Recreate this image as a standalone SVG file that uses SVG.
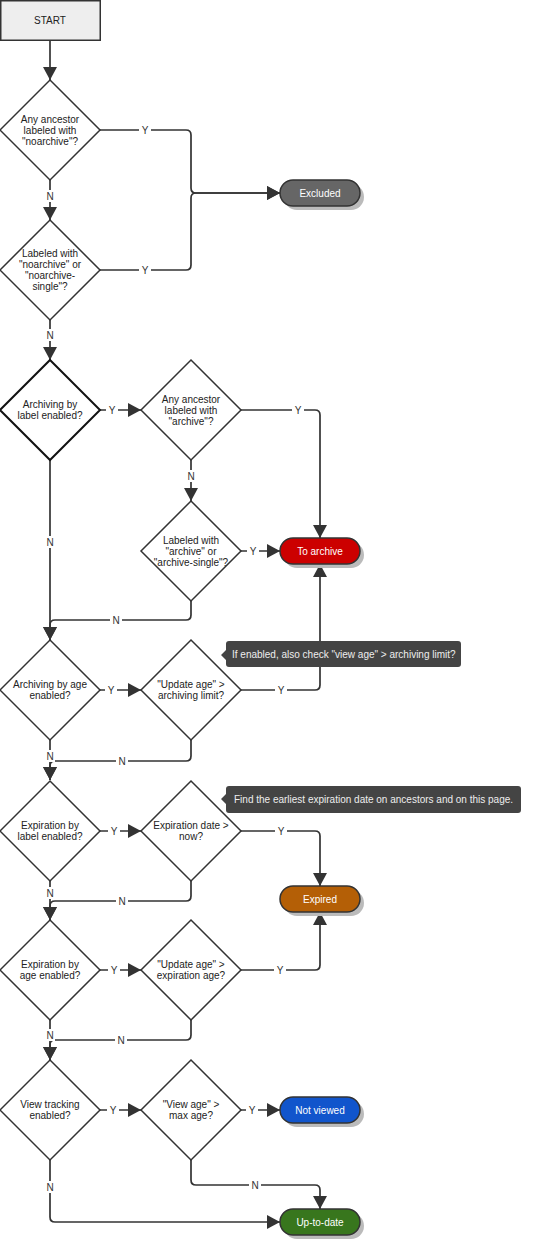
<svg xmlns="http://www.w3.org/2000/svg" width="545" height="1255" viewBox="0 0 545 1255">
<style>
text{font-family:"Liberation Sans",Arial,sans-serif;font-size:10px;text-anchor:middle;dominant-baseline:central}
.d{fill:#fff;stroke:#333;stroke-width:1.5}
.dt{fill:#222}
.c{fill:none;stroke:#333;stroke-width:1.7;stroke-linejoin:round}
.lb{fill:#333}
.lbg{fill:#fff}
.t{stroke:#333;stroke-width:1.5}
.sh{fill:#bbb}
.tt{fill:#fff}
.co{fill:#444}
.cot{fill:#eee;text-anchor:start}
</style>
<defs>
<marker id="a" viewBox="0 0 13 14" refX="13" refY="7" markerWidth="13" markerHeight="14" markerUnits="userSpaceOnUse" orient="auto">
<path d="M0,0 L13,7 L0,14 z" fill="#333"/>
</marker>
</defs>
<rect width="545" height="1255" fill="#fff"/>

<g id="connectors">
<path class="c" d="M50,40 V80" marker-end="url(#a)"/>
<path class="c" d="M100,130 H186 Q191,130 191,135 V188 Q191,193 196,193 H280" marker-end="url(#a)"/>
<path class="c" d="M100,270 H186 Q191,270 191,265 V198 Q191,193 196,193 H280" marker-end="url(#a)"/>
<path class="c" d="M50,180 V220" marker-end="url(#a)"/>
<path class="c" d="M50,320 V360" marker-end="url(#a)"/>
<path class="c" d="M100,410 H141" marker-end="url(#a)"/>
<path class="c" d="M50,460 V640" marker-end="url(#a)"/>
<path class="c" d="M241,410 H315 Q320,410 320,415 V538" marker-end="url(#a)"/>
<path class="c" d="M191,460 V501" marker-end="url(#a)"/>
<path class="c" d="M241,551 H280" marker-end="url(#a)"/>
<path class="c" d="M191,601 V615 Q191,620 186,620 H55 Q50,620 50,625 V640" marker-end="url(#a)"/>
<path class="c" d="M100,690 H141" marker-end="url(#a)"/>
<path class="c" d="M241,690 H315 Q320,690 320,685 V564" marker-end="url(#a)"/>
<path class="c" d="M50,740 V780" marker-end="url(#a)"/>
<path class="c" d="M191,740 V756 Q191,761 186,761 H55 Q50,761 50,766 V780" marker-end="url(#a)"/>
<path class="c" d="M100,831 H141" marker-end="url(#a)"/>
<path class="c" d="M241,831 H315 Q320,831 320,836 V886" marker-end="url(#a)"/>
<path class="c" d="M50,881 V920" marker-end="url(#a)"/>
<path class="c" d="M191,881 V896 Q191,901 186,901 H55 Q50,901 50,906 V920" marker-end="url(#a)"/>
<path class="c" d="M100,970 H141" marker-end="url(#a)"/>
<path class="c" d="M241,970 H315 Q320,970 320,965 V912" marker-end="url(#a)"/>
<path class="c" d="M50,1020 V1060" marker-end="url(#a)"/>
<path class="c" d="M191,1020 V1035 Q191,1040 186,1040 H55 Q50,1040 50,1045 V1060" marker-end="url(#a)"/>
<path class="c" d="M100,1110 H141" marker-end="url(#a)"/>
<path class="c" d="M241,1110 H280" marker-end="url(#a)"/>
<path class="c" d="M191,1160 V1180 Q191,1185 196,1185 H315 Q320,1185 320,1190 V1209" marker-end="url(#a)"/>
<path class="c" d="M50,1160 V1217 Q50,1222 55,1222 H280" marker-end="url(#a)"/>
<g id="labels">
<rect class="lbg" x="139" y="124" width="12" height="12"/><text class="lb" x="145" y="130">Y</text>
<rect class="lbg" x="45" y="190" width="10" height="12"/><text class="lb" x="50" y="196">N</text>
<rect class="lbg" x="139" y="264" width="12" height="12"/><text class="lb" x="145" y="270">Y</text>
<rect class="lbg" x="45" y="329" width="10" height="12"/><text class="lb" x="50" y="335">N</text>
<rect class="lbg" x="106" y="404" width="12" height="12"/><text class="lb" x="112" y="410">Y</text>
<rect class="lbg" x="45" y="536" width="10" height="12"/><text class="lb" x="50" y="542">N</text>
<rect class="lbg" x="292" y="404" width="12" height="12"/><text class="lb" x="298" y="410">Y</text>
<rect class="lbg" x="186" y="470" width="10" height="12"/><text class="lb" x="191" y="476">N</text>
<rect class="lbg" x="247" y="545" width="12" height="12"/><text class="lb" x="253" y="551">Y</text>
<rect class="lbg" x="110" y="614" width="12" height="12"/><text class="lb" x="116" y="620">N</text>
<rect class="lbg" x="105" y="684" width="12" height="12"/><text class="lb" x="111" y="690">Y</text>
<rect class="lbg" x="275" y="684" width="12" height="12"/><text class="lb" x="281" y="690">Y</text>
<rect class="lbg" x="45" y="750" width="10" height="12"/><text class="lb" x="50" y="756">N</text>
<rect class="lbg" x="116" y="755" width="12" height="12"/><text class="lb" x="122" y="761">N</text>
<rect class="lbg" x="108" y="825" width="12" height="12"/><text class="lb" x="114" y="831">Y</text>
<rect class="lbg" x="275" y="825" width="12" height="12"/><text class="lb" x="281" y="831">Y</text>
<rect class="lbg" x="45" y="887" width="10" height="12"/><text class="lb" x="50" y="893">N</text>
<rect class="lbg" x="116" y="895" width="12" height="12"/><text class="lb" x="122" y="901">N</text>
<rect class="lbg" x="108" y="964" width="12" height="12"/><text class="lb" x="114" y="970">Y</text>
<rect class="lbg" x="274" y="964" width="12" height="12"/><text class="lb" x="280" y="970">Y</text>
<rect class="lbg" x="45" y="1029" width="10" height="12"/><text class="lb" x="50" y="1035">N</text>
<rect class="lbg" x="115" y="1034" width="12" height="12"/><text class="lb" x="121" y="1040">N</text>
<rect class="lbg" x="107" y="1104" width="12" height="12"/><text class="lb" x="113" y="1110">Y</text>
<rect class="lbg" x="246" y="1104" width="12" height="12"/><text class="lb" x="252" y="1110">Y</text>
<rect class="lbg" x="249" y="1179" width="12" height="12"/><text class="lb" x="255" y="1185">N</text>
<rect class="lbg" x="45" y="1181" width="10" height="12"/><text class="lb" x="50" y="1187">N</text>
</g>
</g>

<g id="start"><rect x="0.75" y="0.75" width="99.5" height="39.5" fill="#eee" stroke="#333" stroke-width="1.5"/><text class="dt" x="50" y="20">START</text></g>

<g id="d1"><path class="d" d="M50,80 L100,130 L50,180 L0,130 z"/><text class="dt" x="50" y="119">Any ancestor</text><text class="dt" x="50" y="130">labeled with</text><text class="dt" x="50" y="141">"noarchive"?</text></g>
<g id="d2"><path class="d" d="M50,220 L100,270 L50,320 L0,270 z"/><text class="dt" x="50" y="253">Labeled with</text><text class="dt" x="50" y="264">"noarchive" or</text><text class="dt" x="50" y="275.5">"noarchive-</text><text class="dt" x="50" y="286.5">single"?</text></g>
<g id="d3"><path d="M50,360 L100,410 L50,460 L0,410 z" fill="#fff" stroke="#111" stroke-width="2"/><text class="dt" x="50" y="404">Archiving by</text><text class="dt" x="50" y="415">label enabled?</text></g>
<g id="d4"><path class="d" d="M191,360 L241,410 L191,460 L141,410 z"/><text class="dt" x="191" y="399">Any ancestor</text><text class="dt" x="191" y="410">labeled with</text><text class="dt" x="191" y="421">"archive"?</text></g>
<g id="d5"><path class="d" d="M191,501 L241,551 L191,601 L141,551 z"/><text class="dt" x="191" y="540">Labeled with</text><text class="dt" x="191" y="551">"archive" or</text><text class="dt" x="191" y="562">"archive-single"?</text></g>
<g id="d6"><path class="d" d="M50,640 L100,690 L50,740 L0,690 z"/><text class="dt" x="50" y="684">Archiving by age</text><text class="dt" x="50" y="695">enabled?</text></g>
<g id="d7"><path class="d" d="M191,640 L241,690 L191,740 L141,690 z"/><text class="dt" x="191" y="684">"Update age" &gt;</text><text class="dt" x="191" y="695">archiving limit?</text></g>
<g id="d8"><path class="d" d="M50,781 L100,831 L50,881 L0,831 z"/><text class="dt" x="50" y="825">Expiration by</text><text class="dt" x="50" y="836">label enabled?</text></g>
<g id="d9"><path class="d" d="M191,781 L241,831 L191,881 L141,831 z"/><text class="dt" x="191" y="825">Expiration date &gt;</text><text class="dt" x="191" y="836">now?</text></g>
<g id="d10"><path class="d" d="M50,920 L100,970 L50,1020 L0,970 z"/><text class="dt" x="50" y="964">Expiration by</text><text class="dt" x="50" y="975">age enabled?</text></g>
<g id="d11"><path class="d" d="M191,920 L241,970 L191,1020 L141,970 z"/><text class="dt" x="191" y="964">"Update age" &gt;</text><text class="dt" x="191" y="975">expiration age?</text></g>
<g id="d12"><path class="d" d="M50,1060 L100,1110 L50,1160 L0,1110 z"/><text class="dt" x="50" y="1104">View tracking</text><text class="dt" x="50" y="1115">enabled?</text></g>
<g id="d13"><path class="d" d="M191,1060 L241,1110 L191,1160 L141,1110 z"/><text class="dt" x="191" y="1104">"View age" &gt;</text><text class="dt" x="191" y="1115">max age?</text></g>

<g id="excluded"><rect class="sh" x="284" y="184" width="80" height="26" rx="13"/><rect class="t" x="280" y="180" width="80" height="26" rx="13" fill="#666"/><text class="tt" x="320" y="193">Excluded</text></g>
<g id="toarchive"><rect class="sh" x="284" y="542" width="80" height="26" rx="13"/><rect class="t" x="280" y="538" width="80" height="26" rx="13" fill="#cc0000"/><text class="tt" x="320" y="551">To archive</text></g>
<g id="expired"><rect class="sh" x="284" y="890" width="80" height="26" rx="13"/><rect class="t" x="280" y="886" width="80" height="26" rx="13" fill="#b45f06"/><text class="tt" x="320" y="899">Expired</text></g>
<g id="notviewed"><rect class="sh" x="284" y="1101" width="80" height="26" rx="13"/><rect class="t" x="280" y="1097" width="80" height="26" rx="13" fill="#1155cc"/><text class="tt" x="320" y="1110">Not viewed</text></g>
<g id="uptodate"><rect class="sh" x="284" y="1213" width="80" height="26" rx="13"/><rect class="t" x="280" y="1209" width="80" height="26" rx="13" fill="#38761d"/><text class="tt" x="320" y="1222">Up-to-date</text></g>

<g id="note1"><path class="co" d="M229,641 H458 Q461,641 461,644 V664 Q461,667 458,667 H229 Q226,667 226,664 V660 L221,655 L226,650 V644 Q226,641 229,641 z"/><text class="cot" x="232" y="654">If enabled, also check "view age" &gt; archiving limit?</text></g>
<g id="note2"><path class="co" d="M229,786 H518 Q521,786 521,789 V810 Q521,813 518,813 H229 Q226,813 226,810 V804 L221,799 L226,794 V789 Q226,786 229,786 z"/><text class="cot" x="234" y="799.5">Find the earliest expiration date on ancestors and on this page.</text></g>
</svg>
